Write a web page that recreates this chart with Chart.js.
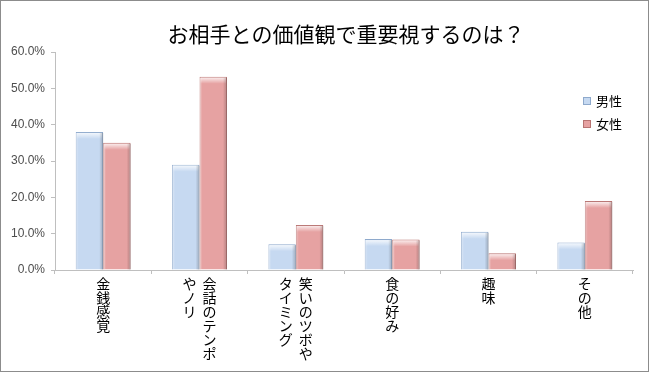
<!DOCTYPE html>
<html>
<head>
<meta charset="utf-8">
<script src="https://cdn.jsdelivr.net/npm/chart.js@4"></script>
<style>
  html, body { margin: 0; padding: 0; background: #fff; }
  #wrap { width: 650px; height: 373px; }
</style>
</head>
<body>
<div id="wrap"><canvas id="valueChart" width="650" height="373"></canvas></div>
<script>
// -------------------- Data --------------------
const titleText = "お相手との価値観で重要視するのは？";
const categories = [
  ["金銭感覚"],
  ["会話のテンポ", "やノリ"],
  ["笑いのツボや", "タイミング"],
  ["食の好み"],
  ["趣味"],
  ["その他"]
];
const seriesNames = ["男性", "女性"];
const maleValues = [38.0, 29.0, 7.1, 8.5, 10.5, 7.6];
const femaleValues = [35.0, 53.2, 12.4, 8.4, 4.6, 19.0];
const yTicks = [0, 10, 20, 30, 40, 50, 60];

const fills = ["#c6d9f1", "#e6a2a2"];
const edges = ["#8ea9cc", "#b87472"];
const jpFont = "'Noto Sans CJK JP', 'Noto Sans', sans-serif";

// -------------------- Bevel on the bars --------------------
const bevelPlugin = {
  id: "bevel",
  afterDatasetsDraw(chart) {
    const ctx = chart.ctx;
    chart.data.datasets.forEach((ds, di) => {
      chart.getDatasetMeta(di).data.forEach(bar => {
        const left = bar.x - bar.width / 2;
        const w = bar.width;
        const top = bar.y;
        const h = bar.base - bar.y;
        ctx.save();
        // top highlight
        let g = ctx.createLinearGradient(0, top, 0, top + 7);
        g.addColorStop(0, "rgba(255,255,255,0.9)");
        g.addColorStop(1, "rgba(255,255,255,0)");
        ctx.fillStyle = g;
        ctx.fillRect(left + 1, top + 1, w - 2, Math.min(7, h));
        // right shade
        g = ctx.createLinearGradient(left + w - 4, 0, left + w, 0);
        g.addColorStop(0, "rgba(0,0,0,0)");
        g.addColorStop(1, "rgba(0,0,0,0.22)");
        ctx.fillStyle = g;
        ctx.fillRect(left + w - 4, top + 1, 4, h - 1);
        // left light
        g = ctx.createLinearGradient(left, 0, left + 3, 0);
        g.addColorStop(0, "rgba(255,255,255,0.35)");
        g.addColorStop(1, "rgba(255,255,255,0)");
        ctx.fillStyle = g;
        ctx.fillRect(left, top + 1, 3, h - 1);
        ctx.restore();
      });
    });
  }
};

// -------------------- Title, legend, vertical labels, frame --------------------
const decoPlugin = {
  id: "deco",
  afterDraw(chart) {
    const ctx = chart.ctx;
    const x = chart.scales.x;
    ctx.save();

    // title
    ctx.fillStyle = "#000";
    ctx.font = "21px " + jpFont;
    ctx.textAlign = "center";
    ctx.textBaseline = "middle";
    ctx.fillText(titleText, 346, 34);

    // legend
    ctx.font = "13px " + jpFont;
    ctx.textAlign = "left";
    chart.data.datasets.forEach((ds, i) => {
      const cy = 101 + i * 23;
      ctx.fillStyle = fills[i];
      ctx.fillRect(583, cy - 4, 8, 8);
      ctx.strokeStyle = edges[i];
      ctx.lineWidth = 1;
      ctx.strokeRect(583.5, cy - 3.5, 7, 7);
      ctx.fillStyle = "#000";
      ctx.fillText(ds.label, 596, cy);
    });

    // vertical category labels
    ctx.font = "14px " + jpFont;
    ctx.textAlign = "center";
    ctx.textBaseline = "top";
    categories.forEach((lines, i) => {
      const cx = x.getPixelForValue(i);
      lines.forEach((line, li) => {
        const colX = cx + (lines.length > 1 ? 10 - li * 20 : 0);
        [...line].forEach((ch, k) => {
          ctx.fillText(ch, colX, 277 + k * 14);
        });
      });
    });

    // outer frame
    ctx.strokeStyle = "#8c8c8c";
    ctx.lineWidth = 1;
    ctx.strokeRect(0.5, 0.5, chart.width - 2, chart.height - 2);
    ctx.restore();
  }
};

const ctx = document.getElementById("valueChart").getContext("2d");
const chart = new Chart(ctx, {
  type: "bar",
  data: {
    labels: categories.map(c => c.join("")),
    datasets: [
      {
        label: seriesNames[0],
        data: maleValues,
        backgroundColor: fills[0],
        borderColor: edges[0],
        borderWidth: 1
      },
      {
        label: seriesNames[1],
        data: femaleValues,
        backgroundColor: fills[1],
        borderColor: edges[1],
        borderWidth: 1
      }
    ]
  },
  options: {
    responsive: false,
    animation: false,
    layout: { padding: { top: 52, right: 17, bottom: 2, left: 0 } },
    datasets: { bar: { categoryPercentage: 0.57, barPercentage: 1.0 } },
    plugins: {
      legend: { display: false },
      title: { display: false },
      tooltip: { enabled: false }
    },
    scales: {
      x: {
        grid: { drawOnChartArea: false, tickLength: 4, color: "#bfbfbf" },
        border: { color: "#bfbfbf" },
        ticks: { display: false },
        afterFit(scale) { scale.height = 101; }
      },
      y: {
        min: yTicks[0],
        max: yTicks[yTicks.length - 1],
        afterBuildTicks(scale) { scale.ticks = yTicks.map(v => ({ value: v })); },
        grid: { drawOnChartArea: false, tickLength: 4, color: "#bfbfbf" },
        border: { color: "#bfbfbf" },
        ticks: {
          color: "#4d4d4d",
          font: { family: "'Liberation Sans', Arial, sans-serif", size: 12 },
          padding: 6,
          callback: v => v.toFixed(1) + "%"
        },
        afterFit(scale) { scale.width = 55; }
      }
    }
  },
  plugins: [bevelPlugin, decoPlugin]
});
</script>
</body>
</html>
